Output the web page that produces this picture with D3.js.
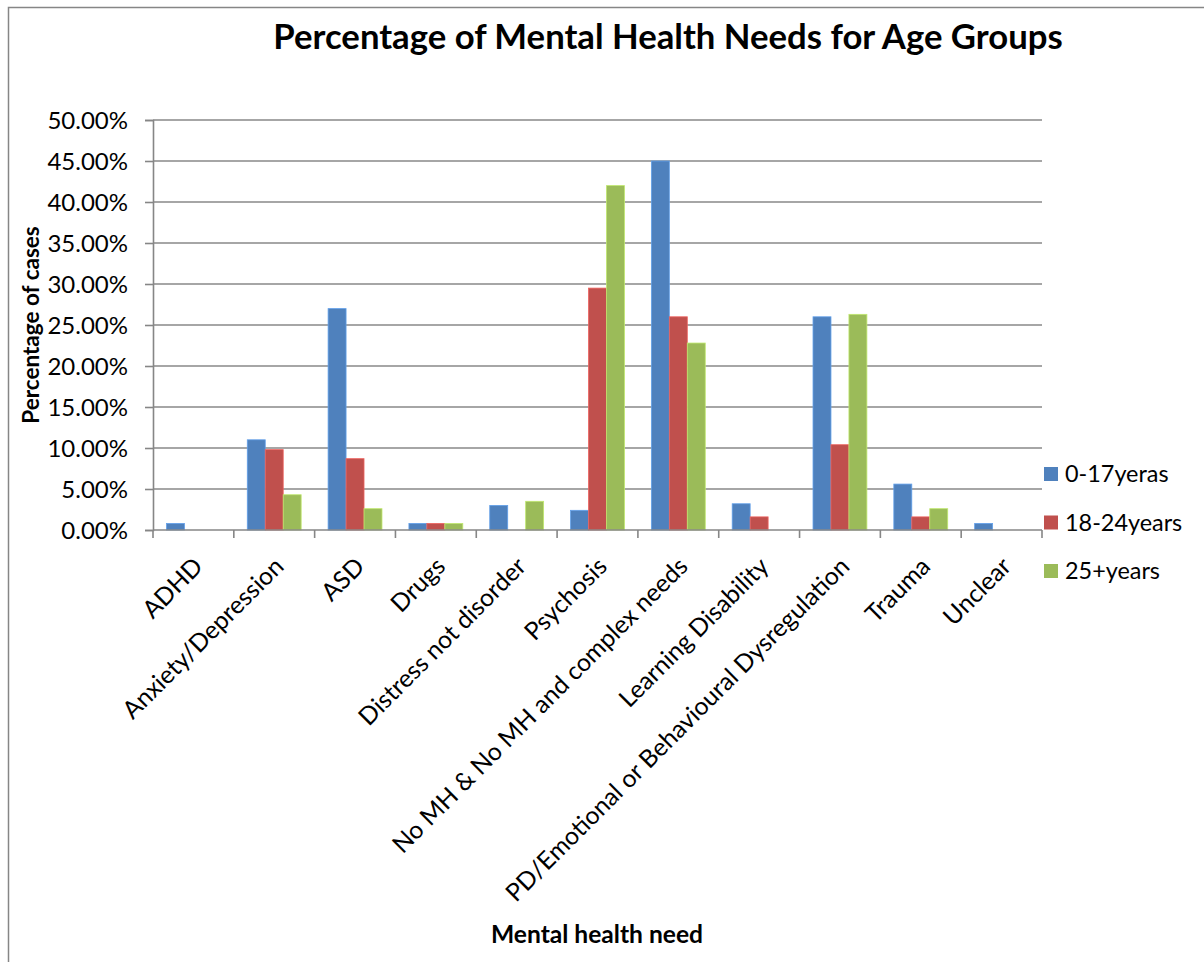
<!DOCTYPE html>
<html>
<head>
<meta charset="utf-8">
<script src="https://cdn.jsdelivr.net/npm/d3@7"></script>
<style>
  html, body { margin: 0; padding: 0; background: #fff; }
  svg { display: block; }
  text { font-family: Lato, "Open Sans", sans-serif; fill: #000; }
</style>
</head>
<body>
<svg id="chart" width="1204" height="962"></svg>
<script>
// Mental health need categories
const categories = [
  "ADHD", "Anxiety/Depression", "ASD", "Drugs", "Distress not disorder",
  "Psychosis", "No MH & No MH and complex needs", "Learning Disability",
  "PD/Emotional or Behavioural Dysregulation", "Trauma", "Unclear"
];

// Age group series names
const seriesNames = ["0-17yeras", "18-24years", "25+years"];

// Percentage of cases per category for each age group
const age0to17  = [0.8, 11.0, 27.0, 0.8, 3.0, 2.4, 45.0, 3.2, 26.0, 5.6, 0.8];
const age18to24 = [0.0, 9.8, 8.7, 0.8, 0.0, 29.5, 26.0, 1.6, 10.4, 1.6, 0.0];
const age25plus = [0.0, 4.3, 2.6, 0.8, 3.5, 42.0, 22.8, 0.0, 26.3, 2.6, 0.0];

// Y axis tick values (percent)
const yTicks = [0, 5, 10, 15, 20, 25, 30, 35, 40, 45, 50];

const colors = ["#4F81BD", "#C0504D", "#9BBB59"];
const seriesValues = [age0to17, age18to24, age25plus];

const svg = d3.select("#chart");

// chart border
svg.append("rect")
  .attr("x", 8.5).attr("y", 7.5)
  .attr("width", 1210).attr("height", 970)
  .attr("fill", "none").attr("stroke", "#868686").attr("stroke-width", 1.5);

const plot = { left: 153, right: 1042, top: 120, bottom: 530 };

const x = d3.scaleBand()
  .domain(categories)
  .range([plot.left, plot.right])
  .paddingInner(1/3)
  .paddingOuter(1/6);

const xs = d3.scaleBand()
  .domain(d3.range(seriesNames.length))
  .range([0, x.bandwidth()]);

const y = d3.scaleLinear()
  .domain([0, 50])
  .range([plot.bottom, plot.top]);

// gridlines
svg.append("g")
  .selectAll("line")
  .data(yTicks.filter(d => d > 0))
  .join("line")
  .attr("x1", plot.left).attr("x2", plot.right)
  .attr("y1", d => y(d)).attr("y2", d => y(d))
  .attr("stroke", "#898989").attr("stroke-width", 1.6);

// bars
const groups = svg.append("g")
  .selectAll("g")
  .data(categories)
  .join("g")
  .attr("transform", d => `translate(${x(d)},0)`);

groups.selectAll("rect")
  .data((d, i) => seriesValues.map((vals, s) => ({ s, v: vals[i] })))
  .join("rect")
  .filter(d => d.v > 0)
  .attr("x", d => xs(d.s))
  .attr("width", xs.bandwidth())
  .attr("y", d => y(d.v))
  .attr("height", d => y(0) - y(d.v))
  .attr("fill", d => colors[d.s])
  .attr("stroke", d => d3.color(colors[d.s]).brighter(0.6))
  .attr("stroke-width", 0.8);

// y axis
const yAxis = d3.axisLeft(y)
  .tickValues(yTicks)
  .tickSize(8)
  .tickFormat(d => d3.format(".2f")(d) + "%");

const yg = svg.append("g")
  .attr("transform", `translate(${plot.left},0)`)
  .call(yAxis);
yg.select(".domain").attr("stroke", "#868686").attr("stroke-width", 1.6);
yg.selectAll(".tick line").attr("stroke", "#868686").attr("stroke-width", 1.6);
yg.selectAll(".tick text")
  .attr("x", -25)
  .attr("dy", "0.35em")
  .style("font-size", "24px")
  .style("font-family", "Lato, sans-serif")
  .attr("fill", "#000");

// x axis: baseline and boundary ticks
const xg = svg.append("g");
xg.append("line")
  .attr("x1", plot.left).attr("x2", plot.right)
  .attr("y1", plot.bottom).attr("y2", plot.bottom)
  .attr("stroke", "#868686").attr("stroke-width", 1.6);
const step = x.step();
xg.selectAll("line.tick")
  .data(d3.range(categories.length + 1))
  .join("line")
  .attr("class", "tick")
  .attr("x1", i => plot.left + i * step).attr("x2", i => plot.left + i * step)
  .attr("y1", plot.bottom).attr("y2", plot.bottom + 8)
  .attr("stroke", "#868686").attr("stroke-width", 1.6);

// rotated category labels
xg.selectAll("text")
  .data(categories)
  .join("text")
  .attr("text-anchor", "end")
  .attr("transform", d => `translate(${x(d) + x.bandwidth() / 2 + 11},${plot.bottom + 38}) rotate(-45)`)
  .style("font-size", "24.7px")
  .text(d => d);

// title
svg.append("text")
  .attr("x", 668).attr("y", 49)
  .attr("text-anchor", "middle")
  .style("font-size", "34.7px")
  .style("font-weight", "bold")
  .text("Percentage of Mental Health Needs for Age Groups");

// axis titles
svg.append("text")
  .attr("transform", "translate(39,325) rotate(-90)")
  .attr("text-anchor", "middle")
  .style("font-size", "22.5px")
  .style("font-weight", "bold")
  .text("Percentage of cases");

svg.append("text")
  .attr("x", 597).attr("y", 943)
  .attr("text-anchor", "middle")
  .style("font-size", "24.6px")
  .style("font-weight", "bold")
  .text("Mental health need");

// legend
const legend = svg.append("g")
  .selectAll("g")
  .data(seriesNames)
  .join("g")
  .attr("transform", (d, i) => `translate(1044,${474 + i * 48.5})`);
legend.append("rect")
  .attr("x", 0).attr("y", -7)
  .attr("width", 14).attr("height", 14)
  .attr("fill", (d, i) => colors[i]);
legend.append("text")
  .attr("x", 21).attr("y", 0)
  .attr("dy", "0.35em")
  .style("font-size", "23.4px")
  .text(d => d);
</script>
</body>
</html>
